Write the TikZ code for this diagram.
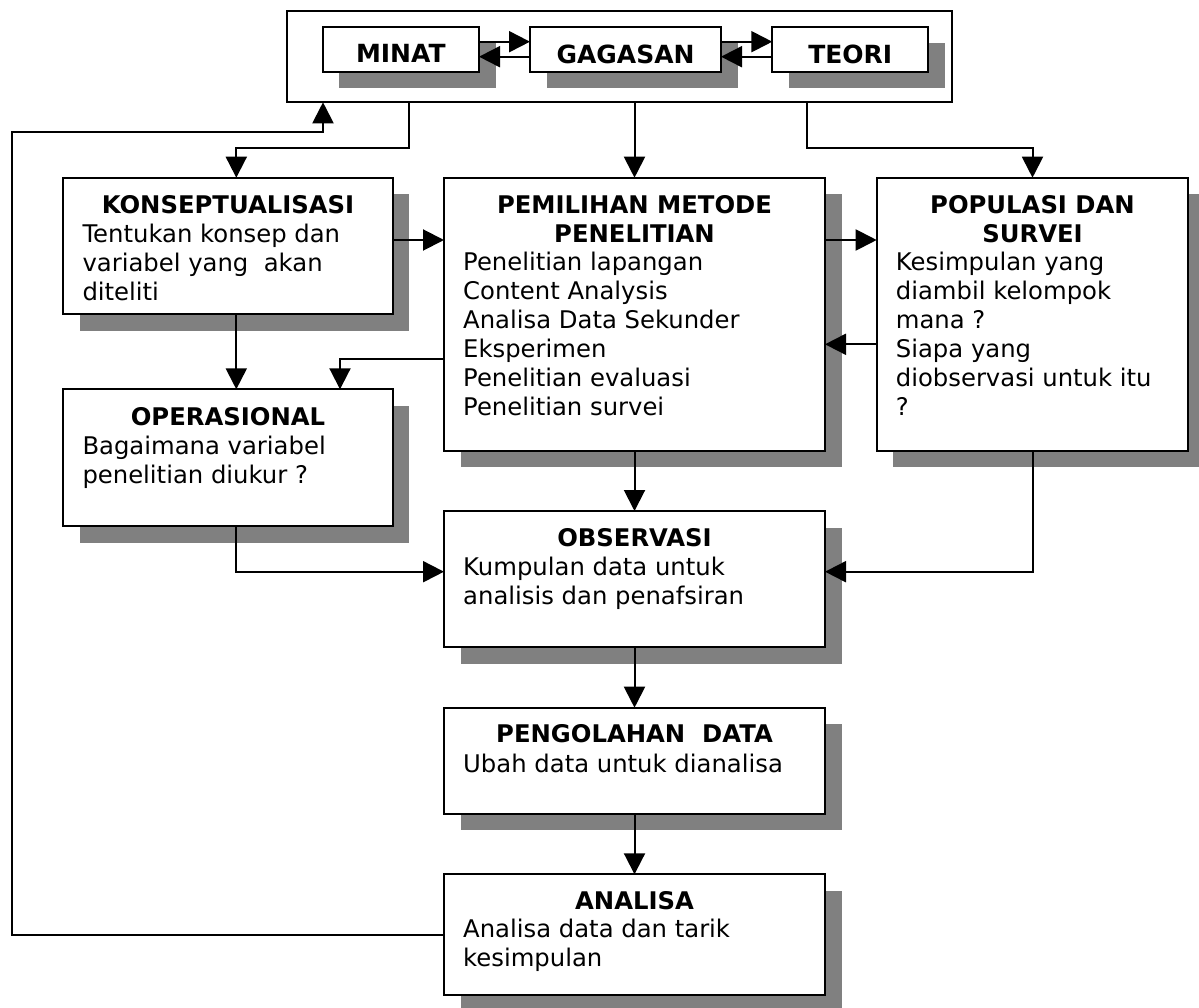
\documentclass[tikz,border=0pt]{standalone}
\usepackage{fontspec}
\setmainfont{DejaVu Sans}
\usetikzlibrary{arrows.meta,shadows,calc}
\definecolor{shadowgray}{HTML}{808080}
\begin{document}
\begin{tikzpicture}[x=1pt,y=-1pt,
  box/.style={draw, line width=2pt, fill=white, rectangle, inner sep=0pt, outer sep=0pt, anchor=north west,
    drop shadow={shadow xshift=16.5pt, shadow yshift=-16.5pt, fill=shadowgray, opacity=1}},
  frame/.style={draw, line width=2pt, rectangle, inner sep=0pt, outer sep=0pt, anchor=north west},
  ttl/.style={font=\fontsize{24.3}{29}\selectfont\bfseries, inner sep=0pt, anchor=north, align=center},
  toptxt/.style={font=\fontsize{25}{30}\selectfont\bfseries, inner sep=0pt, anchor=north},
  bdy/.style={font=\fontsize{24.3}{29}\selectfont, inner sep=0pt, anchor=north west, align=left},
  conn/.style={line width=2pt},
  arr/.style={conn, -{Triangle[length=21pt 0 0,width=21pt 0 0]}}]
\useasboundingbox (0,0) rectangle (1199,1008);

% top frame and boxes
\node[frame, minimum width=664.7pt, minimum height=91.3pt] (outer) at (287.3,11) {};
\node[box, minimum width=156.3pt, minimum height=45.3pt] (minat) at (322.7,26.7) {};
\node[box, minimum width=191pt, minimum height=45.3pt] (gagasan) at (530,26.7) {};
\node[box, minimum width=156pt, minimum height=45.3pt] (teori) at (772.3,26.7) {};
\node[toptxt] (minatT) at ([yshift=-17.6pt]minat.north) {MINAT};
\node[toptxt] (gagasanT) at ([yshift=-17.6pt]gagasan.north) {GAGASAN};
\node[toptxt] (teoriT) at ([yshift=-17.6pt]teori.north) {TEORI};

% main boxes
\node[box, minimum width=329.4pt, minimum height=136.3pt] (konsep) at (63.3,177.7) {};
\node[box, minimum width=381pt, minimum height=273pt] (pem) at (444,177.7) {};
\node[box, minimum width=311.6pt, minimum height=273pt] (pop) at (876.7,177.7) {};
\node[box, minimum width=329.4pt, minimum height=136.7pt] (oper) at (63.3,389.3) {};
\node[box, minimum width=381pt, minimum height=136.3pt] (obs) at (444,511) {};
\node[box, minimum width=381pt, minimum height=106pt] (peng) at (444,707.7) {};
\node[box, minimum width=381pt, minimum height=121pt] (ana) at (444,874.3) {};

% texts
\node[ttl] (konsepT) at ([yshift=-17.5pt]konsep.north) {KONSEPTUALISASI};
\node[bdy] (konsepB) at ([xshift=19pt,yshift=-45.8pt]konsep.north west) {Tentukan konsep dan\\variabel yang\ \ akan\\diteliti};

\node[ttl] (pemT) at ([yshift=-17.5pt]pem.north) {PEMILIHAN METODE\\PENELITIAN};
\node[bdy] (pemB) at ([xshift=19pt,yshift=-74.3pt]pem.north west) {Penelitian lapangan\\Content Analysis\\Analisa Data Sekunder\\Eksperimen\\Penelitian evaluasi\\Penelitian survei};

\node[ttl] (popT) at ([yshift=-17.5pt]pop.north) {POPULASI DAN\\SURVEI};
\node[bdy] (popB) at ([xshift=19pt,yshift=-74.3pt]pop.north west) {Kesimpulan yang\\diambil kelompok\\mana ?\\Siapa yang\\diobservasi untuk itu\\?};

\node[ttl] (operT) at ([yshift=-17.8pt]oper.north) {OPERASIONAL};
\node[bdy] (operB) at ([xshift=19pt,yshift=-46.3pt]oper.north west) {Bagaimana variabel\\penelitian diukur ?};

\node[ttl] (obsT) at ([yshift=-17.5pt]obs.north) {OBSERVASI};
\node[bdy] (obsB) at ([xshift=19pt,yshift=-45.8pt]obs.north west) {Kumpulan data untuk\\analisis dan penafsiran};

\node[ttl] (pengT) at ([yshift=-16.5pt]peng.north) {PENGOLAHAN\ \ DATA};
\node[bdy] (pengB) at ([xshift=19pt,yshift=-45.8pt]peng.north west) {Ubah data untuk dianalisa};

\node[ttl] (anaT) at ([yshift=-16.5pt]ana.north) {ANALISA};
\node[bdy] (anaB) at ([xshift=19pt,yshift=-44.5pt]ana.north west) {Analisa data dan tarik\\kesimpulan};

% connectors in top row
\draw[arr] ([yshift=-15pt]minat.north east) -- ([yshift=-15pt]gagasan.north west);
\draw[arr] ([yshift=-30pt]gagasan.north west) -- ([yshift=-30pt]minat.north east);
\draw[arr] ([yshift=-15pt]gagasan.north east) -- ([yshift=-15pt]teori.north west);
\draw[arr] ([yshift=-30pt]teori.north west) -- ([yshift=-30pt]gagasan.north east);

% from frame downward
\draw[arr] ([xshift=122pt]outer.south west) |- ([xshift=173pt,yshift=30pt]konsep.north west) -- ([xshift=173pt]konsep.north west);
\draw[arr] (outer.south -| pem.north) -- (pem.north);
\draw[arr] ([xshift=-144.7pt]outer.south east) |- ([yshift=30pt]pop.north) -- (pop.north);

% feedback
\coordinate (fb) at (11.7,132.3);
\draw[arr] (ana.west) -| (fb) -| ([xshift=35.7pt]outer.south west);

% middle connectors
\draw[arr] ([yshift=-62.3pt]konsep.north east) -- ([yshift=-62.3pt]pem.north west);
\draw[arr] ([yshift=-62.3pt]pem.north east) -- ([yshift=-62.3pt]pop.north west);
\draw[arr] ([yshift=-166.6pt]pop.north west) -- ([yshift=-166.6pt]pem.north east);
\draw[arr] ([yshift=-181.6pt]pem.north west) -| ([xshift=276.7pt]oper.north west);
\draw[arr] ([xshift=173pt]konsep.south west) -- ([xshift=173pt]oper.north west);
\draw[arr] ([xshift=173pt]oper.south west) |- ([yshift=-60.7pt]obs.north west);
\draw[arr] (pop.south) |- ([yshift=-60.7pt]obs.north east);
\draw[arr] (pem.south) -- (obs.north);
\draw[arr] (obs.south) -- (peng.north);
\draw[arr] (peng.south) -- (ana.north);
\end{tikzpicture}
\end{document}
